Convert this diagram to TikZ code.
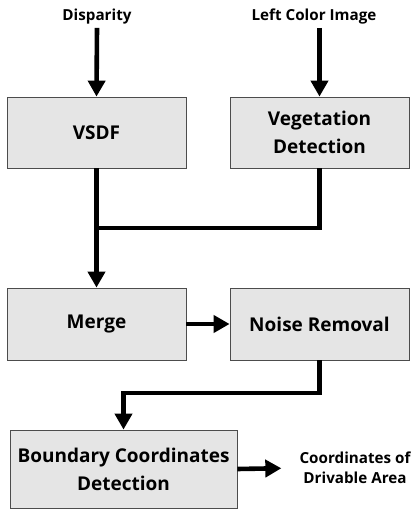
\documentclass[tikz,border=0pt]{standalone}
\usepackage{fontspec}
\setmainfont{Open Sans}
\usetikzlibrary{arrows.meta}

\tikzset{
	block/.style={draw=black!70, line width=0.8pt, fill=black!10, minimum width=179pt, minimum height=71pt, align=center, font=\bfseries\fontsize{19}{28}\selectfont},
	label/.style={inner sep=3pt, align=center, font=\bfseries\fontsize{15.2}{20}\selectfont},
	line/.style={line width=4.6pt},
	arr/.style={line width=4.6pt, -{Triangle[length=16pt, width=17pt]}}
}

\begin{document}
\begin{tikzpicture}[x=1pt, y=1pt]

	\useasboundingbox (0,0) rectangle (414,512);

	\coordinate (P1) at (96.5, 379.5);
	\coordinate (P2) at (319.5, 379.5);
	\coordinate (P3) at (96.5, 188);
	\coordinate (P4) at (319.5, 188);
	\coordinate (P5) at (123.5, 43);

	\coordinate (J) at (96.5, 284);
	\coordinate (K) at (123.5, 119);

	\node (disp) at (97, 495) [label] {Disparity};
	\node (left) at (314, 495) [label] {Left Color Image};
	\node (vsdf) at (P1) [block] {VSDF};
	\node (veg) at (P2) [block] {Vegetation\\Detection};
	\node (merge) at (P3) [block, minimum height=72pt] {Merge};
	\node (noise) at (P4) [block, minimum height=72pt] {Noise Removal};
	\node (bound) at (P5) [block, minimum width=227pt, minimum height=78pt] {Boundary Coordinates\\Detection};
	\node (out) at (355, 44) [label] {Coordinates of\\Drivable Area};

	\draw[arr] (disp.south) -- (vsdf.north);
	\draw[arr] (left.south -| veg.north) -- (veg.north);
	\draw[line] (veg.south) |- (J);
	\draw[arr] (vsdf.south) -- (merge.north);
	\draw[arr] (merge.east) -- (noise.west);
	\draw[arr] (noise.south) |- (K) -- (bound.north);
	\draw[arr, shorten >=15pt] (bound.east) -- (out.west);
\end{tikzpicture}
\end{document}
